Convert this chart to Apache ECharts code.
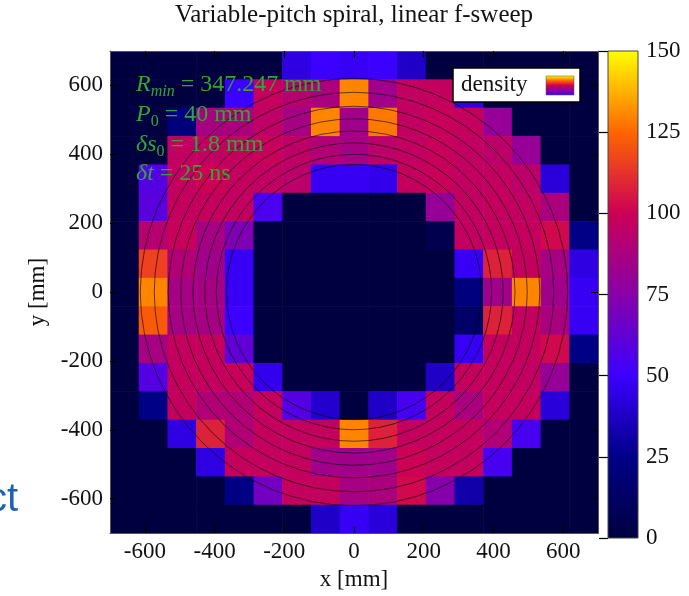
<!DOCTYPE html>
<html>
<head>
<meta charset="utf-8">
<script src="https://cdn.jsdelivr.net/npm/echarts@6/dist/echarts.min.js"></script>
<style>
html, body { margin: 0; padding: 0; background: #fff; }
#main { width: 689px; height: 596px; }
</style>
</head>
<body>
<div id="main"></div>
<script>
// binning of the histogram (mm)
var xMin = -700, xMax = 700, nBins = 17;
var axisTicks = [-600, -400, -200, 0, 200, 400, 600];
var colorMin = 0, colorMax = 150, colorStep = 25;

// hit density, rows from top (y = +700) to bottom (y = -700), columns left to right
var density = [
    [0, 0, 0, 0, 0, 0, 44, 50, 48, 50, 38, 0, 0, 0, 0, 0, 0],
    [0, 0, 0, 0, 50, 97, 92, 88, 130, 84, 96, 97, 45, 0, 0, 0, 0],
    [0, 0, 20, 86, 88, 95, 86, 130, 84, 128, 96, 98, 97, 80, 0, 0, 0],
    [0, 0, 96, 96, 97, 98, 95, 90, 86, 94, 96, 98, 96, 94, 80, 0, 0],
    [0, 58, 96, 100, 97, 96, 94, 48, 48, 46, 97, 98, 96, 96, 94, 42, 0],
    [0, 60, 97, 97, 96, 55, 0, 0, 0, 0, 0, 80, 96, 97, 96, 88, 0],
    [0, 92, 98, 86, 72, 0, 0, 0, 0, 0, 0, 5, 96, 97, 97, 102, 24],
    [0, 116, 90, 84, 48, 0, 0, 0, 0, 0, 0, 0, 48, 108, 97, 86, 44],
    [0, 130, 86, 86, 48, 0, 0, 0, 0, 0, 0, 0, 22, 84, 130, 84, 48],
    [0, 122, 86, 86, 50, 0, 0, 0, 0, 0, 0, 0, 14, 108, 97, 88, 48],
    [0, 86, 97, 97, 62, 0, 0, 0, 0, 0, 0, 0, 48, 97, 97, 102, 24],
    [0, 58, 97, 97, 98, 46, 0, 0, 0, 0, 0, 38, 97, 97, 96, 80, 0],
    [0, 24, 97, 90, 90, 97, 58, 40, 0, 38, 54, 97, 88, 97, 97, 42, 0],
    [0, 0, 44, 108, 90, 97, 97, 97, 130, 108, 97, 97, 97, 90, 54, 0, 0],
    [0, 0, 0, 44, 97, 97, 97, 84, 84, 84, 100, 97, 97, 54, 0, 0, 0],
    [0, 0, 0, 0, 24, 68, 97, 97, 86, 88, 102, 74, 32, 0, 0, 0, 0],
    [0, 0, 0, 0, 0, 0, 0, 38, 48, 42, 0, 0, 0, 0, 0, 0, 0]
];

// turns of the spiral (mm)
var ringRadii = [366, 395, 428, 462, 497, 533, 573, 613];

var palette = ['#000040', '#000088', '#3c00ff', '#8800a8', '#cc0055', '#ff6600', '#ffff00'];

var serif = "'Liberation Serif', 'DejaVu Serif', serif";
var green = '#30a830';

var binW = (xMax - xMin) / nBins;
var cells = [];
density.forEach(function (row, r) {
    row.forEach(function (v, c) {
        var x0 = xMin + c * binW;
        var y1 = xMax - r * binW;
        cells.push([x0, x0 + binW, y1 - binW, y1, v]);
    });
});

function gradient(colors) {
    return new echarts.graphic.LinearGradient(0, 1, 0, 0, colors.map(function (c, i) {
        return { offset: i / (colors.length - 1), color: c };
    }));
}

function renderCell(params, api) {
    var p0 = api.coord([api.value(0), api.value(3)]);
    var p1 = api.coord([api.value(1), api.value(2)]);
    return {
        type: 'rect',
        shape: { x: p0[0], y: p0[1], width: p1[0] - p0[0] + 0.6, height: p1[1] - p0[1] + 0.6 },
        style: { fill: api.visual('color') }
    };
}

function renderRing(params, api) {
    var c = api.coord([0, 0]);
    var r = api.size([api.value(0), 0])[0];
    return {
        type: 'circle',
        shape: { cx: c[0], cy: c[1], r: r },
        style: { fill: 'none', stroke: 'rgba(0,0,0,0.6)', lineWidth: 1 }
    };
}

function renderBar(params, api) {
    var p0 = api.coord([0, api.value(2)]);
    var p1 = api.coord([1, api.value(1)]);
    return {
        type: 'rect',
        shape: { x: p0[0], y: p0[1], width: p1[0] - p0[0], height: p1[1] - p0[1] },
        style: { fill: gradient(palette), stroke: '#444', lineWidth: 1 }
    };
}

var tickStyle = { inside: true, length: 7, lineStyle: { color: '#000', width: 1.2 } };
function mainAxis(extra) {
    var ax = {
        type: 'value', gridIndex: 0, min: xMin, max: xMax, z: 10,
        axisLine: { show: true, onZero: false, lineStyle: { color: '#555', width: 1 } },
        axisTick: Object.assign({ customValues: axisTicks }, tickStyle),
        axisLabel: { customValues: axisTicks, fontFamily: serif, fontSize: 23, color: '#111', margin: 7 },
        splitLine: { show: false }
    };
    return Object.assign(ax, extra);
}

var richNote = {
    i: { fontStyle: 'italic', fontSize: 24, fontFamily: serif, fill: green },
    s: { fontStyle: 'italic', fontSize: 16, fontFamily: serif, fill: green, verticalAlign: 'bottom', lineHeight: 29 },
    n: { fontSize: 16, fontFamily: serif, fill: green, verticalAlign: 'bottom', lineHeight: 29 }
};
var noteLines = ['{i|R}{s|min} = 347.247 mm', '{i|P}{n|0} = 40 mm', '{i|δs}{n|0} = 1.8 mm', '{i|δt} = 25 ns'];
var noteY = [85, 115, 145, 174];

var graphics = [
    {
        type: 'text', x: 354, y: 15, z: 100,
        style: { text: 'Variable-pitch spiral, linear f-sweep', align: 'center',
            verticalAlign: 'middle', font: '25px ' + serif, fill: '#111' }
    },
    {
        type: 'text', x: 18, y: 500, z: 100,
        style: { text: 'ct', align: 'right', verticalAlign: 'middle',
            font: '40px "Liberation Sans", Arial, sans-serif', fill: '#1c62b4' }
    },
    {
        type: 'rect', x: 453, y: 68, z: 100,
        shape: { x: 0, y: 0, width: 127, height: 34 },
        style: { fill: '#fff', stroke: '#000', lineWidth: 1.5 }
    },
    {
        type: 'text', x: 461, y: 85, z: 101,
        style: { text: 'density', verticalAlign: 'middle', font: '23px ' + serif, fill: '#111' }
    },
    {
        type: 'rect', x: 546, y: 76, z: 101,
        shape: { x: 0, y: 0, width: 28, height: 19 },
        style: { fill: gradient(palette.slice(2)), stroke: '#555', lineWidth: 0.5 }
    }
];
noteLines.forEach(function (t, k) {
    graphics.push({
        type: 'text', x: 136, y: noteY[k], z: 100,
        style: { text: t, verticalAlign: 'middle', font: '24px ' + serif, fill: green, rich: richNote }
    });
});

var chart = echarts.init(document.getElementById('main'));
var option = {
    backgroundColor: '#fff',
    animation: false,
    grid: [
        { left: 110, top: 51, width: 488, height: 487 },
        { left: 608, top: 51, width: 30, height: 487 }
    ],
    xAxis: [
        mainAxis({ position: 'bottom', name: 'x [mm]', nameLocation: 'middle', nameGap: 30,
            nameTextStyle: { fontFamily: serif, fontSize: 23, color: '#111' } }),
        mainAxis({ position: 'top', axisLabel: { show: false } }),
        { type: 'value', gridIndex: 1, min: 0, max: 1, show: false }
    ],
    yAxis: [
        mainAxis({ position: 'left', name: 'y [mm]', nameLocation: 'middle', nameGap: 56,
            nameTextStyle: { fontFamily: serif, fontSize: 23, color: '#111' } }),
        mainAxis({ position: 'right', axisLabel: { show: false } }),
        {
            type: 'value', gridIndex: 1, position: 'right', min: colorMin, max: colorMax,
            interval: colorStep, z: 10,
            axisLine: { show: false },
            axisTick: { inside: true, length: 9, lineStyle: { color: '#000', width: 1.2 } },
            axisLabel: { fontFamily: serif, fontSize: 23, color: '#111', margin: 8 },
            splitLine: { show: false }
        }
    ],
    visualMap: {
        show: false, type: 'continuous', min: colorMin, max: colorMax,
        dimension: 4, seriesIndex: 0, inRange: { color: palette }
    },
    series: [
        {
            type: 'custom', xAxisIndex: 0, yAxisIndex: 0, renderItem: renderCell,
            encode: { x: [0, 1], y: [2, 3] }, data: cells, silent: true, z: 2
        },
        {
            type: 'custom', xAxisIndex: 0, yAxisIndex: 0, renderItem: renderRing,
            encode: { x: 0 }, data: ringRadii.map(function (r) { return [r]; }), silent: true, z: 3
        },
        {
            type: 'custom', xAxisIndex: 2, yAxisIndex: 2, renderItem: renderBar,
            encode: { x: 0, y: [1, 2] }, data: [[0, colorMin, colorMax]], silent: true, z: 2
        }
    ],
    graphic: graphics
};
chart.setOption(option);
</script>
</body>
</html>
